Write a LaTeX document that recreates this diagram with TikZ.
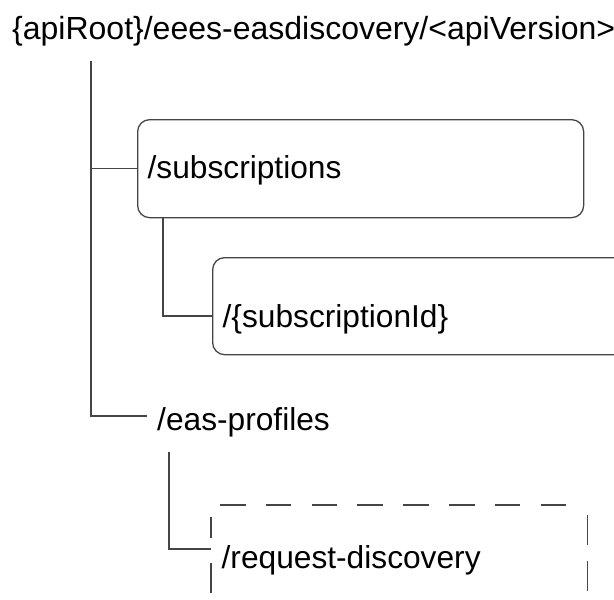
\documentclass[tikz,border=0pt]{standalone}
\usepackage{fontspec}
\setmainfont{Liberation Sans}
\usetikzlibrary{positioning}
\usetikzlibrary{calc}
\definecolor{linegray}{rgb}{0.27,0.27,0.27}

\begin{document}
\begin{tikzpicture}
    [x=1pt, y=-1pt,
    resource/.style={draw=linegray, line width=1.3pt, rounded corners=12pt, anchor=north west,
        align=left, inner xsep=10pt, font=\fontsize{31.7}{36}\selectfont},
    plain/.style={anchor=base west, inner xsep=10pt, font=\fontsize{31.7}{36}\selectfont},
    tree/.style={draw=linegray, line width=1.3pt},
    dashside/.style={draw=linegray, line width=1.3pt}]
    \clip (0,0) rectangle (614,600);
    %\draw[step=50,gray,very thin] (0,0) grid (614,600);
    \node[plain, font=\fontsize{32}{36}\selectfont] (root) at (2, 39) {\{apiRoot\}/eees-easdiscovery/<apiVersion>};
    \coordinate (rootstem) at (91, 61);
    \node[resource, minimum width=446pt, minimum height=98pt, text width=426pt,
        text height=26pt, text depth=6pt] (subs) at (137, 119) {/subscriptions};
    \node[resource, minimum width=440pt, minimum height=97pt, text width=420pt,
        text height=48pt, text depth=5pt] (subid) at (212, 257) {/\{subscriptionId\}};
    \node[plain] (eas) at (147, 430) {/eas-profiles};
    \node[resource, draw=none, minimum width=375pt, minimum height=140pt,
        text width=355pt, text height=20pt, text depth=34pt] (reqdisc) at (211, 505) {/request-discovery};
    % dashed border, open at the corners and at the bottom
    \draw[dashside, dash pattern=on 25.5pt off 20.3pt] ([xshift=9pt]reqdisc.north west) -- ([xshift=-13pt]reqdisc.north east);
    \draw[dashside, dash pattern=on 21pt off 25pt on 30pt off 16pt] ([yshift=-12pt]reqdisc.north west) -- (reqdisc.south west);
    \draw[dashside, dash pattern=on 30pt off 16pt] ([yshift=-10pt]reqdisc.north east) -- (reqdisc.south east);
    \draw[tree] (rootstem) |- ([yshift=14pt]eas.base west);
    \draw[tree] (rootstem |- subs.west) -- (subs.west);
    \draw[tree] ([xshift=26pt]subs.south west) |- ([yshift=-59pt]subid.north west);
    \draw[tree] ([xshift=22pt, yshift=-22pt]eas.base west) |- ([yshift=-44pt]reqdisc.north west);
\end{tikzpicture}
\end{document}
